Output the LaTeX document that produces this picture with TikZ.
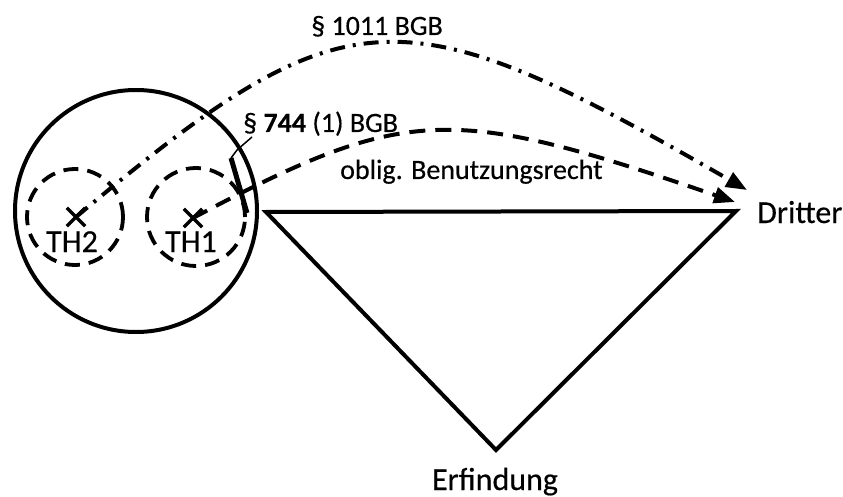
\documentclass[tikz,border=0pt]{standalone}
\usepackage{fontspec}
\setmainfont{Carlito}[FakeBold=0.4]
\usetikzlibrary{arrows.meta,shapes.misc}
\begin{document}
\begin{tikzpicture}[x=1pt,y=-1pt,
  line join=round,
  solidline/.style={line width=4pt},
  holder/.style={circle,draw,line width=3.8pt,dash pattern=on 15pt off 9pt,inner sep=0pt},
  xmark/.style={cross out,draw,line width=3.4pt,minimum size=15pt,inner sep=0pt},
  biglabel/.style={font=\fontsize{32}{32}\selectfont,inner sep=0pt},
  smalllabel/.style={font=\fontsize{28}{28}\selectfont,inner sep=0pt},
  rightarrow/.style={line width=4pt,-{Triangle[length=21pt,width=16pt]}},
  ]
  \useasboundingbox (0,0) rectangle (843,497);

  % co-owners inside the community
  \node[circle,draw,line width=4pt,minimum size=242pt,inner sep=0pt] (community) at (136,211) {};
  \node[holder,minimum size=96pt] (th2) at (75,217) {};
  \node[holder,minimum size=98pt] (th1) at (196,217) {};
  \node[xmark] (th2x) at (76,217) {};
  \node[xmark] (th1x) at (193,218) {};
  \node[biglabel,anchor=base] (th2lbl) at (72,252) {TH2};
  \node[biglabel,anchor=base] (th1lbl) at (191,252) {TH1};

  % the invention triangle
  \coordinate (tl) at (266,212);
  \coordinate (tr) at (736,211);
  \coordinate (bt) at (496,450);
  \draw[solidline,line join=miter] (tl) -- (tr) -- (bt) -- cycle;

  \node[biglabel,anchor=base west] (dritter) at (757,223) {Dritter};
  \node[biglabel,anchor=base] (erfindung) at (495,490) {Erfindung};

  % arrow ends near the third party
  \coordinate (tipA) at (747,190);
  \coordinate (tipB) at (735,202);

  % § 1011 BGB: dash-dotted arc from TH2
  \draw[rightarrow,dash pattern=on 15pt off 8pt on 3pt off 8pt]
    (th2x.center) .. controls (347,-10) and (400,-10) .. (tipA);
  \node[smalllabel,anchor=base] (l1011) at (377,35) {§ 1011 BGB};

  % § 744 (1) BGB: dashed arc from TH1
  \draw[rightarrow,dash pattern=on 16pt off 10pt]
    (th1x.center) .. controls (406,105) and (450,104) .. (tipB);
  \node[smalllabel,anchor=base west] (l744) at (243,132) {§ \textbf{744} (1) BGB};
  \node[smalllabel,anchor=base west] (oblig) at (340,179) {oblig. Benutzungsrecht};

  % callout from the paragraph label to the community edge
  \coordinate (c1) at (252,137);
  \coordinate (c2) at (237,150);
  \coordinate (c3) at (231,158);
  \coordinate (c4) at (247,213);
  \draw[line width=1.5pt] (c1) -- (c2) -- (c3);
  \draw[line width=5pt] (c3) -- (c4);
\end{tikzpicture}
\end{document}
